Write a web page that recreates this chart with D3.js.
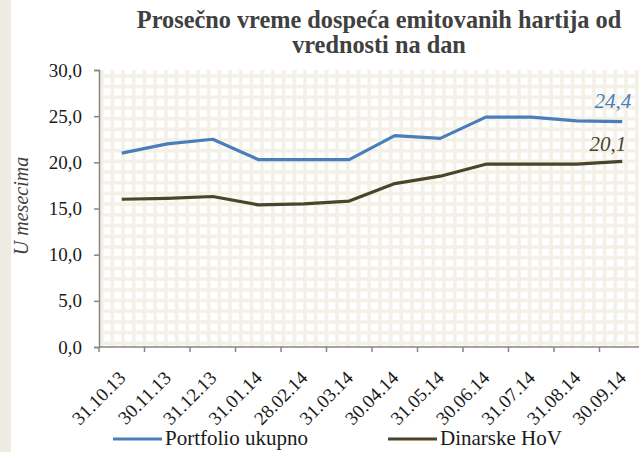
<!DOCTYPE html>
<html>
<head>
<meta charset="utf-8">
<script src="https://cdn.jsdelivr.net/npm/d3@7"></script>
<style>
  body { margin: 0; background: #fff; }
  text { font-family: "Liberation Serif", "Times New Roman", serif; }
</style>
</head>
<body>
<div id="chart"></div>
<script>
// data
const dates = ["31.10.13", "30.11.13", "31.12.13", "31.01.14", "28.02.14", "31.03.14",
               "30.04.14", "31.05.14", "30.06.14", "31.07.14", "31.08.14", "30.09.14"];
const portfolio = [21.0, 22.0, 22.5, 20.3, 20.3, 20.3, 22.9, 22.6, 24.9, 24.9, 24.5, 24.4];
const dinarske = [16.0, 16.1, 16.3, 15.4, 15.5, 15.8, 17.7, 18.5, 19.8, 19.8, 19.8, 20.1];
const yTicks = [0, 5, 10, 15, 20, 25, 30];
const seriesNames = ["Portfolio ukupno", "Dinarske HoV"];
const colors = ["#4a7ebb", "#4a4529"];

const W = 639, H = 452;
const margin = {top: 70, left: 99};
const plotW = 546, plotH = 277;

const svg = d3.select("#chart").append("svg")
    .attr("width", W).attr("height", H);

// beige strip on the left
svg.append("rect").attr("x", 0).attr("y", 0).attr("width", 11).attr("height", H)
    .attr("fill", "#eeece2");

// grid-like pattern fill of the plot area
const defs = svg.append("defs");
const pat = defs.append("pattern").attr("id", "grid")
    .attr("patternUnits", "userSpaceOnUse")
    .attr("x", margin.left).attr("y", margin.top)
    .attr("width", 10.7).attr("height", 10.7);
pat.append("rect").attr("width", 10.7).attr("height", 10.7).attr("fill", "#f3f0e6");
pat.append("rect").attr("x", 1.7).attr("y", 1.7).attr("width", 7.3).attr("height", 7.3).attr("fill", "#fff");

const g = svg.append("g").attr("transform", `translate(${margin.left},${margin.top})`);

g.append("rect").attr("width", plotW).attr("height", plotH).attr("fill", "url(#grid)");

const x = d3.scaleBand().domain(dates).range([0, plotW]);
const y = d3.scaleLinear().domain([0, 30]).range([plotH, 0]);
const cx = d => x(d) + x.bandwidth() / 2;

// Y axis
const fmt = v => d3.format(".1f")(v).replace(".", ",");
const yAxis = g.append("g")
    .call(d3.axisLeft(y).tickValues(yTicks).tickFormat(fmt).tickSize(5).tickPadding(12));
yAxis.select(".domain").attr("stroke", "#868686").attr("stroke-width", 1.5);
yAxis.selectAll(".tick line").attr("stroke", "#868686").attr("stroke-width", 1.5);
yAxis.selectAll("text").attr("font-size", 19).attr("fill", "#1a1a1a")
    .style("font-family", "Liberation Serif");

// X axis (ticks between categories)
const xAxis = g.append("g").attr("transform", `translate(0,${plotH})`);
xAxis.append("line").attr("x1", 0).attr("x2", plotW).attr("stroke", "#868686").attr("stroke-width", 1.5);
xAxis.selectAll(".tk").data(dates.concat(["end"])).join("line")
    .attr("class", "tk")
    .attr("x1", d => d === "end" ? plotW : x(d))
    .attr("x2", d => d === "end" ? plotW : x(d))
    .attr("y1", 0).attr("y2", 5)
    .attr("stroke", "#868686").attr("stroke-width", 1.5);
xAxis.selectAll(".lbl").data(dates).join("text")
    .attr("class", "lbl")
    .attr("text-anchor", "end")
    .attr("font-size", 19)
    .attr("fill", "#1a1a1a")
    .attr("transform", d => `translate(${cx(d) + 5},${32}) rotate(-45)`)
    .text(d => d);

// lines
const line = d3.line().x((d, i) => cx(dates[i])).y(d => y(d));
[portfolio, dinarske].forEach((s, k) => {
  g.append("path").datum(s)
    .attr("fill", "none")
    .attr("stroke", colors[k])
    .attr("stroke-width", 3.2)
    .attr("stroke-linejoin", "round")
    .attr("d", line);
});

// end labels
const last = dates.length - 1;
g.append("text")
    .attr("x", cx(dates[last]) + 9).attr("y", y(portfolio[last]) - 14)
    .attr("text-anchor", "end").attr("font-size", 21).attr("font-style", "italic")
    .attr("fill", colors[0]).text(fmt(portfolio[last]));
g.append("text")
    .attr("x", cx(dates[last]) + 4).attr("y", y(dinarske[last]) - 10)
    .attr("text-anchor", "end").attr("font-size", 21).attr("font-style", "italic")
    .attr("fill", colors[1]).text(fmt(dinarske[last]));

// title
const title = svg.append("text")
    .attr("x", 379).attr("y", 28)
    .attr("text-anchor", "middle").attr("font-size", 24.3).attr("font-weight", "bold")
    .attr("fill", "#404040");
title.append("tspan").attr("x", 379).attr("dy", 0).text("Prosečno vreme dospeća emitovanih hartija od");
title.append("tspan").attr("x", 379).attr("dy", 25).text("vrednosti na dan");

// y axis title
svg.append("text")
    .attr("transform", "translate(28,206) rotate(-90)")
    .attr("text-anchor", "middle").attr("font-size", 20).attr("font-style", "italic")
    .attr("fill", "#404040").text("U mesecima");

// legend
const legendX = [113, 388];
const lg = svg.append("g").selectAll("g").data(seriesNames).join("g")
    .attr("transform", (d, i) => `translate(${legendX[i]},439)`);
lg.append("line").attr("x1", 0).attr("x2", 49)
    .attr("stroke", (d, i) => colors[i]).attr("stroke-width", 3.2);
lg.append("text").attr("x", 52).attr("y", 6).attr("font-size", 21)
    .attr("fill", "#1a1a1a").text(d => d);
</script>
</body>
</html>
